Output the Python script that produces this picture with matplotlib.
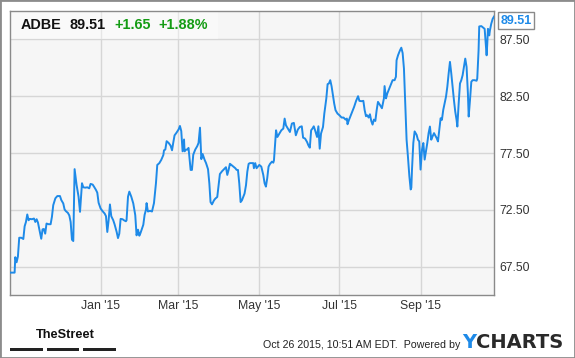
import numpy as np
import pandas as pd
import matplotlib
matplotlib.use('Agg')
import matplotlib.pyplot as plt
import matplotlib.dates as mdates
from matplotlib.patches import Rectangle

# ADBE, un año hasta el 26 oct 2015 (dias contados desde 2015-01-01)
dias = [-68.7, -65.2, -64.7, -63.7, -62.7, -61.7, -60.1, -58.6, -57.6, -56.6,
        -55.6, -54.6, -53.6, -52.1, -50.5, -49.5, -48.5, -47.5, -46.0, -45.0,
        -44.0, -43.0, -42.0, -41.0, -39.4, -37.9, -36.9, -35.9, -34.3, -32.8,
        -30.8, -29.8, -28.3, -27.3, -26.3, -24.8, -23.7, -22.7, -21.7, -20.7,
        -19.7, -18.2, -16.7, -15.6, -14.1, -13.1, -11.6, -10.1, -8.6, -7.6,
        -6.0, -5.0, -3.5, -2.5, -1.5, 0.0, 1.5, 3.1, 4.1, 5.1,
        6.1, 7.1, 8.1, 9.6, 10.6, 12.2, 13.2, 14.2, 15.2, 16.7,
        17.7, 19.2, 19.7, 20.8, 21.8, 23.3, 24.8, 26.3, 27.3, 28.4,
        29.4, 30.3, 32.4, 33.4, 34.4, 34.9, 35.9, 37.5, 39.0, 40.5,
        42.0, 43.0, 44.5, 46.0, 47.6, 48.1, 49.1, 50.1, 51.6, 53.1,
        54.2, 55.1, 56.1, 57.6, 59.2, 60.2, 61.2, 62.2, 63.3, 63.7,
        64.8, 65.8, 66.7, 68.3, 69.3, 70.3, 71.8, 73.3, 74.3, 75.4,
        76.4, 77.4, 78.9, 80.0, 81.5, 82.5, 83.4, 84.5, 86.0, 87.0,
        88.5, 89.5, 90.5, 92.1, 93.6, 95.1, 96.1, 97.1, 98.1, 99.1,
        100.6, 102.2, 103.2, 104.2, 105.2, 106.2, 107.2, 108.2, 109.2, 110.3,
        111.3, 112.3, 113.3, 114.3, 115.8, 116.3, 117.3, 118.3, 119.4, 120.4,
        121.9, 123.4, 124.4, 125.4, 126.4, 127.4, 128.5, 130.0, 131.0, 131.5,
        133.1, 134.1, 135.6, 137.1, 138.6, 139.6, 140.6, 142.1, 143.6, 145.1,
        146.6, 148.1, 149.6, 151.1, 152.6, 153.6, 155.1, 156.6, 157.6, 158.7,
        159.7, 160.7, 161.7, 162.7, 164.2, 165.2, 166.2, 167.2, 168.7, 169.7,
        171.2, 172.2, 173.2, 174.2, 175.2, 176.2, 177.2, 178.2, 179.7, 181.2,
        182.8, 184.3, 185.8, 186.8, 187.3, 188.3, 189.8, 191.3, 192.3, 193.8,
        195.3, 196.3, 197.8, 199.3, 200.3, 201.3, 202.3, 203.3, 204.3, 205.3,
        206.3, 207.3, 208.4, 209.4, 210.4, 211.9, 213.4, 214.9, 215.4, 216.5,
        217.5, 218.5, 220.0, 221.5, 223.0, 224.0, 224.5, 225.6, 227.1, 228.1,
        229.1, 230.1, 231.1, 232.1, 233.1, 234.2, 235.2, 235.7, 236.2, 237.2,
        238.2, 239.7, 240.7, 241.7, 242.7, 243.8, 244.8, 245.8, 246.8, 247.8,
        248.8, 249.8, 250.8, 251.8, 252.9, 253.9, 254.9, 255.9, 256.9, 257.9,
        258.9, 259.9, 260.9, 262.0, 263.0, 264.0, 265.0, 266.0, 267.0, 268.0,
        269.0, 270.0, 270.6, 271.6, 272.6, 273.6, 274.6, 275.6, 276.6, 277.6,
        278.6, 279.2, 280.2, 281.2, 282.2, 283.7, 285.2, 285.7, 286.7, 287.2,
        288.8, 290.3, 291.3, 292.3, 292.8, 293.3, 293.8, 294.8, 295.3, 296.3,
        297.4, 298.4]

precio = [66.97, 66.97, 68.33, 67.88, 68.39, 70.04, 70.04, 69.93, 71.05, 71.43,
          72.09, 71.58, 71.70, 71.67, 71.73, 71.43, 71.67, 71.38, 70.55, 69.95,
          70.78, 70.81, 70.40, 71.29, 71.23, 71.23, 71.88, 72.91, 73.51, 73.71,
          73.71, 73.36, 73.06, 72.53, 72.38, 72.23, 72.00, 71.43, 69.87, 69.75,
          76.08, 74.69, 73.65, 72.32, 74.84, 74.48, 74.45, 74.48, 74.39, 74.78,
          74.72, 74.54, 74.25, 74.01, 73.12, 72.62, 72.38, 72.17, 71.94, 70.55,
          71.58, 72.97, 71.94, 71.58, 71.23, 70.55, 70.01, 70.40, 71.70, 71.67,
          71.58, 71.49, 71.58, 73.65, 74.10, 73.65, 73.06, 72.03, 70.25, 70.75,
          70.22, 70.46, 71.18, 72.06, 72.50, 73.09, 72.35, 72.41, 72.35, 73.09,
          74.84, 76.45, 76.60, 76.89, 77.32, 77.74, 77.80, 78.54, 78.39, 78.15,
          77.74, 78.39, 79.05, 79.29, 79.58, 79.88, 79.43, 77.65, 78.69, 77.65,
          77.80, 77.80, 77.95, 76.01, 76.01, 77.35, 77.80, 78.10, 78.39, 79.73,
          76.96, 77.41, 76.90, 76.61, 76.07, 74.82, 73.18, 72.98, 73.33, 73.48,
          73.63, 74.67, 75.65, 75.89, 76.07, 76.25, 75.57, 76.01, 76.55, 76.46,
          76.31, 76.16, 76.01, 76.01, 74.82, 73.18, 73.33, 73.63, 73.93, 74.67,
          75.86, 76.55, 76.61, 76.61, 76.61, 76.16, 76.61, 76.16, 76.31, 76.45,
          76.30, 75.57, 74.84, 74.54, 75.28, 76.30, 76.54, 76.74, 76.65, 76.85,
          79.50, 78.91, 79.21, 79.50, 79.65, 80.53, 79.94, 79.65, 79.35, 80.09,
          80.15, 79.06, 79.56, 79.79, 79.85, 78.85, 78.77, 78.47, 78.18, 77.97,
          79.50, 79.65, 79.85, 79.50, 78.91, 79.85, 77.88, 79.21, 79.79, 80.97,
          82.29, 83.56, 83.62, 83.91, 83.38, 82.59, 81.85, 81.27, 80.97, 80.82,
          80.62, 80.62, 80.44, 80.53, 80.03, 80.38, 80.82, 81.27, 81.56, 82.09,
          82.50, 82.09, 82.06, 82.09, 81.27, 80.74, 80.82, 80.62, 80.91, 80.32,
          80.00, 80.44, 80.32, 81.27, 82.00, 81.73, 81.44, 82.31, 83.39, 82.31,
          82.75, 83.04, 83.48, 83.91, 83.91, 84.21, 85.66, 86.10, 86.54, 86.77,
          86.30, 84.93, 81.87, 78.67, 77.21, 75.46, 74.29, 74.44, 76.04, 78.38,
          79.40, 79.10, 78.67, 78.52, 76.04, 77.79, 78.38, 76.92, 77.65, 78.38,
          79.25, 79.83, 78.67, 78.96, 79.25, 79.02, 78.81, 78.52, 79.54, 80.56,
          80.42, 81.29, 81.87, 82.46, 83.33, 84.50, 85.52, 84.50, 83.33, 82.17,
          81.15, 80.42, 79.83, 81.87, 83.62, 83.91, 84.35, 85.08, 85.81, 85.08,
          82.75, 80.71, 82.17, 83.77, 83.91, 83.91, 83.86, 84.06, 86.54, 88.64,
          88.67, 88.52, 88.43, 86.83, 86.10, 87.12, 88.43, 87.85, 88.29, 88.87,
          89.31, 89.51]

ticker = 'ADBE'
cambio = 1.65
cambio_pct = 1.88
yticks = [67.50, 72.50, 77.50, 82.50, 87.50]

fechas = pd.Timestamp('2015-01-01') + pd.to_timedelta(dias, unit='D')

plt.rcParams['font.family'] = ['Liberation Sans', 'DejaVu Sans']

azul = '#1e8ae8'
verde = '#149c14'

fig = plt.figure(figsize=(5.75, 3.58), dpi=100)
ax = fig.add_axes([10 / 575, 63 / 358, 484 / 575, 284 / 358])
ax.set_facecolor('#f6f6f6')

ax.plot(fechas, precio, color=azul, lw=1.4, zorder=3)

ax.set_xlim(fechas[0], fechas[-1])
ax.set_ylim(65.0, 90.0)
ax.yaxis.tick_right()
ax.set_yticks(yticks)
ax.set_yticklabels(['%.2f' % t for t in yticks])
ax.xaxis.set_major_locator(mdates.MonthLocator(bymonth=[1, 3, 5, 7, 9]))
ax.xaxis.set_major_formatter(mdates.DateFormatter("%b '%y"))
ax.tick_params(length=0, labelsize=8.8, colors='#333333')
ax.tick_params(axis='y', pad=4)
ax.tick_params(axis='x', pad=3.5)
ax.grid(True, color='#d6d6d6', lw=1)
ax.set_axisbelow(True)
for s in ax.spines.values():
    s.set_color('#8a8a8a')
    s.set_linewidth(1)

# franja del encabezado
ax.add_patch(Rectangle((0, 0.901), 0.43, 0.099, transform=ax.transAxes,
                       facecolor='white', alpha=0.4, lw=0, zorder=2))
enc = dict(transform=ax.transAxes, fontsize=10.4, fontweight='bold',
           va='center', zorder=4)
ax.text(0.022, 0.952, ticker, color='#111111', **enc)
ax.text(0.122, 0.952, '%.2f' % precio[-1], color='#111111', **enc)
ax.text(0.215, 0.952, '+%.2f' % cambio, color=verde, **enc)
ax.text(0.307, 0.952, '+%.2f%%' % cambio_pct, color=verde, **enc)

# etiqueta del ultimo precio
ax.annotate('%.2f' % precio[-1], xy=(fechas[-1], precio[-1]), xytext=(4.5, -3),
            textcoords='offset points', ha='left', va='center', fontsize=9,
            fontweight='bold', color=azul, annotation_clip=False,
            bbox=dict(boxstyle='square,pad=0.2', fc='white', ec='#8a8a8a', lw=1))

# pie
fig.text(36 / 575, 1 - 335 / 358, 'TheStreet', fontsize=9.2, fontweight='bold',
         color='#111111', va='center', ha='left')
for x0 in [10, 46.7, 83.3]:
    fig.add_artist(Rectangle((x0 / 575, 1 - 350.5 / 358), 32.5 / 575, 3 / 358,
                             transform=fig.transFigure, color='#222222', lw=0))
fig.text(263 / 575, 1 - 345 / 358, 'Oct 26 2015, 10:51 AM EDT.  Powered by',
         fontsize=7.7, color='#222222', va='center', ha='left')
fig.text(462 / 575, 1 - 343 / 358, 'Y', fontsize=14, fontweight='bold',
         color='#1e8ae8', va='center', ha='left', family=['DejaVu Sans'])
fig.text(476 / 575, 1 - 343 / 358, 'CHARTS', fontsize=14, fontweight='bold',
         color='#2a2a2a', va='center', ha='left', family=['DejaVu Sans'])

fig.add_artist(Rectangle((0, 0), 1, 1, transform=fig.transFigure, fill=False,
                         ec='#8c8c8c', lw=2))

fig.savefig('out.png', dpi=100, facecolor='white')
